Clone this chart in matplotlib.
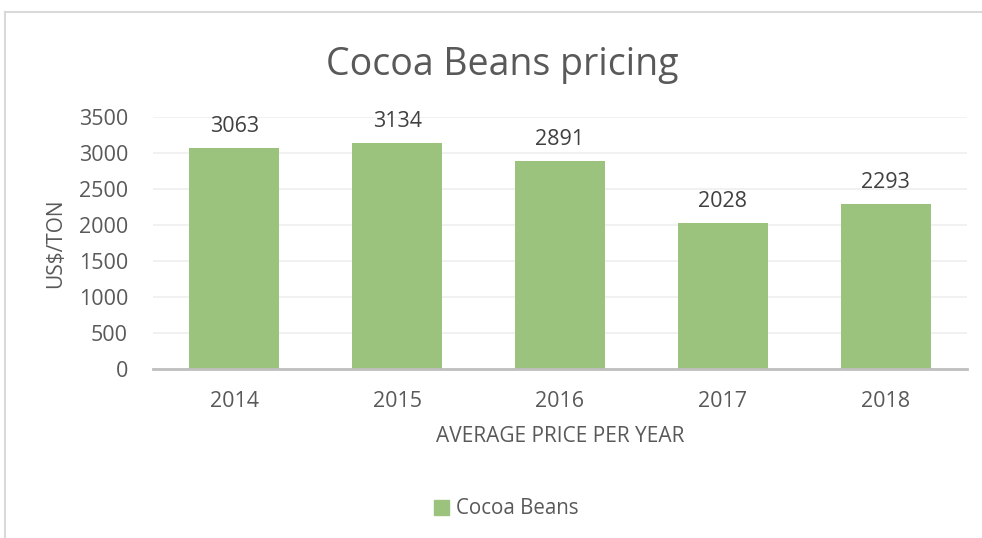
import matplotlib
matplotlib.use("Agg")
import matplotlib.pyplot as plt
from matplotlib.lines import Line2D
from matplotlib.patches import Patch

years = ["2014", "2015", "2016", "2017", "2018"]
prices = [3063, 3134, 2891, 2028, 2293]
yticks = [0, 500, 1000, 1500, 2000, 2500, 3000, 3500]

bar_color = "#9BC37E"
text_color = "#595959"
label_color = "#404040"

plt.rcParams["font.family"] = ["Open Sans", "DejaVu Sans"]

W, H = 982, 538
fig = plt.figure(figsize=(W / 100, H / 100), dpi=100)

# chart frame (top and left edges only are visible)
fig.add_artist(Line2D([4.5 / W, 1], [1 - 12 / H, 1 - 12 / H], color="#D9D9D9", lw=1.5))
fig.add_artist(Line2D([4.5 / W, 4.5 / W], [0, 1 - 12 / H], color="#D9D9D9", lw=1.5))

ax = fig.add_axes([153 / W, (H - 369) / H, 814 / W, 252 / H])
x = range(len(years))
ax.bar(x, prices, width=0.553, color=bar_color, zorder=2)
ax.set_xlim(-0.5, len(years) - 0.5)
ax.set_ylim(0, 3500)
ax.set_yticks(yticks)
ax.set_xticks(list(x))
ax.set_xticklabels(years)

for s in ["top", "right", "left"]:
    ax.spines[s].set_visible(False)
ax.spines["bottom"].set_color("#BFBFBF")
ax.spines["bottom"].set_linewidth(2)
ax.spines["bottom"].set_zorder(3)
ax.grid(axis="y", color="#EFEFEF", lw=1.2, zorder=0)
ax.tick_params(axis="both", length=0, labelsize=15.5, labelcolor=text_color)
ax.tick_params(axis="y", pad=18)
ax.tick_params(axis="x", pad=16)

for i, v in zip(x, prices):
    ax.annotate(str(v), (i, v), xytext=(0, 8), textcoords="offset points",
                ha="center", va="bottom", fontsize=15.5, color=label_color)

ax.set_xlabel("AVERAGE PRICE PER YEAR", fontsize=15, color=text_color, labelpad=10)
ax.set_ylabel("US$/TON", fontsize=15, color=text_color, labelpad=9)

fig.text(502 / W, 1 - 65 / H, "Cocoa Beans pricing", ha="center", va="center",
         fontsize=27, color=text_color)

fig.legend(handles=[Patch(color=bar_color, label="Cocoa Beans")],
           loc="center", bbox_to_anchor=(506 / W, 1 - 509 / H), frameon=False,
           fontsize=14.8, labelcolor=text_color, handlelength=0.75, handleheight=0.75,
           handletextpad=0.3)

fig.savefig("out.png", dpi=100)
